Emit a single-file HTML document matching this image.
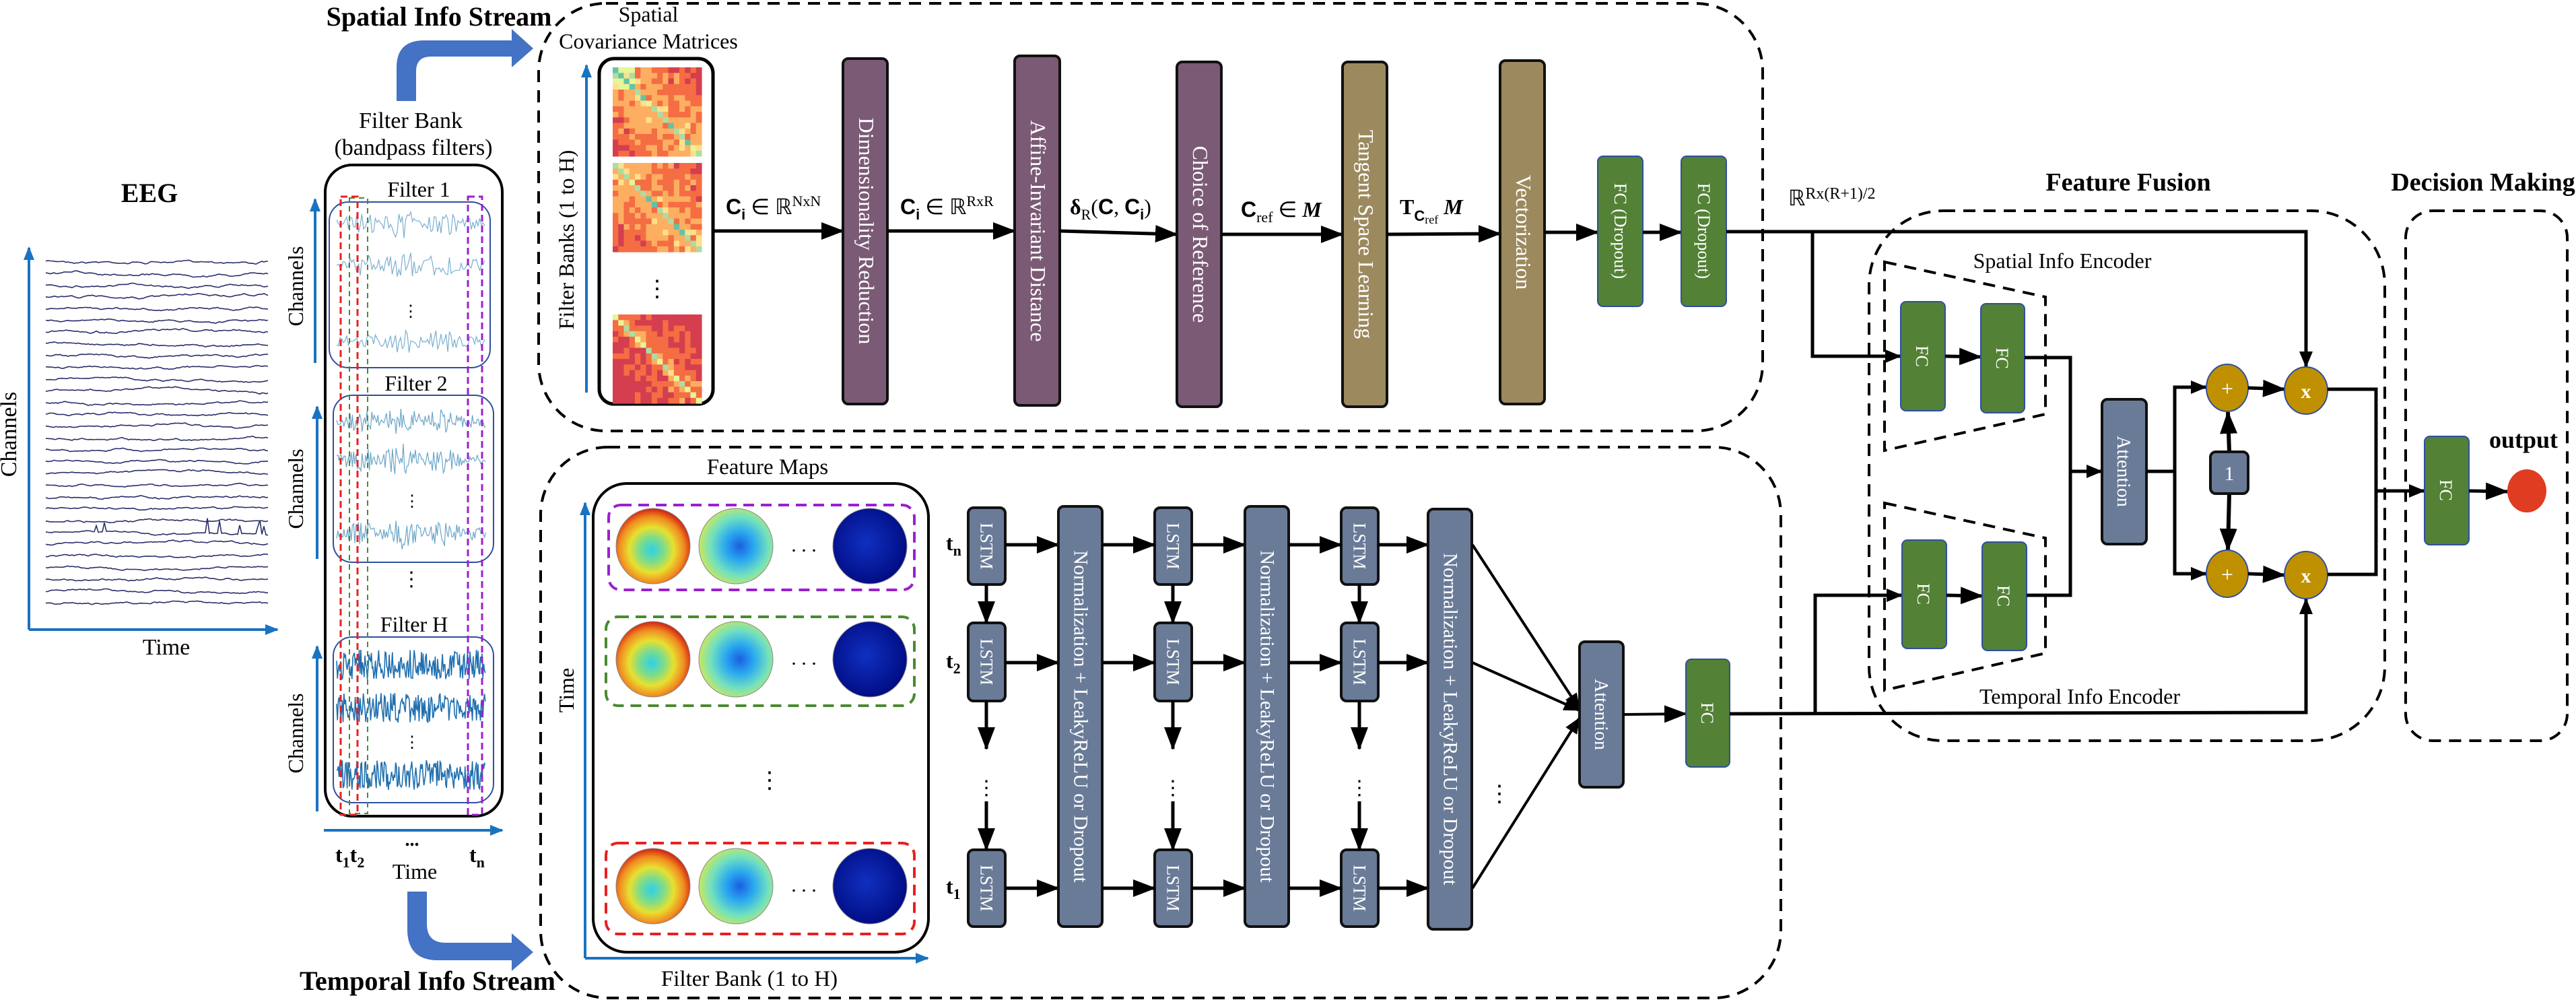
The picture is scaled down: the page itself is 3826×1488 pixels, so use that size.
<!DOCTYPE html>
<html><head><meta charset="utf-8"><style>
html,body{margin:0;padding:0;background:#fff;}
svg{display:block;}
text{font-family:"Liberation Serif",serif;}
.w{fill:#fff;}
.b{font-weight:bold;}
</style></head><body>
<svg id="s" xmlns="http://www.w3.org/2000/svg" width="3826" height="1488" viewBox="0 0 3826 1488">
<defs>
<marker id="a" markerUnits="userSpaceOnUse" markerWidth="34" markerHeight="26" refX="32" refY="13" orient="auto"><path d="M0,0 L34,13 L0,26 z" fill="#000"/></marker>
<marker id="s2" markerUnits="userSpaceOnUse" markerWidth="24" markerHeight="20" refX="23" refY="10" orient="auto"><path d="M0,0 L24,10 L0,20 z" fill="#000"/></marker>
<marker id="bl" markerUnits="userSpaceOnUse" markerWidth="20" markerHeight="16" refX="18" refY="8" orient="auto"><path d="M0,0 L20,8 L0,16 z" fill="#1a73c0"/></marker>
<radialGradient id="g1" cx="0.48" cy="0.55" r="0.55"><stop offset="0" stop-color="#2fd0e8"/><stop offset="0.3" stop-color="#7ddc8a"/><stop offset="0.55" stop-color="#e8e030"/><stop offset="0.8" stop-color="#f08a20"/><stop offset="1" stop-color="#d02010"/></radialGradient>
<radialGradient id="g2" cx="0.55" cy="0.5" r="0.55"><stop offset="0" stop-color="#1a5fe0"/><stop offset="0.35" stop-color="#2aa8f0"/><stop offset="0.7" stop-color="#70e0c0"/><stop offset="1" stop-color="#c8e860"/></radialGradient>
<radialGradient id="g3" cx="0.45" cy="0.45" r="0.6"><stop offset="0" stop-color="#1030c0"/><stop offset="1" stop-color="#000a80"/></radialGradient>
</defs>

<!-- EEG -->
<text x="222" y="300" font-size="40" class="b" text-anchor="middle">EEG</text>
<g id="eeg"></g>
<line x1="43" y1="935" x2="43" y2="368" stroke="#1a73c0" stroke-width="4" marker-end="url(#bl)"/>
<line x1="43" y1="935" x2="412" y2="935" stroke="#1a73c0" stroke-width="4" marker-end="url(#bl)"/>
<text transform="translate(24,645) rotate(-90)" font-size="34" text-anchor="middle">Channels</text>
<text x="247" y="972" font-size="34" text-anchor="middle">Time</text>

<!-- Filter bank -->
<text x="610" y="190" font-size="34" text-anchor="middle">Filter Bank</text>
<text x="614" y="230" font-size="34" text-anchor="middle">(bandpass filters)</text>
<rect x="483" y="245" width="263" height="967" rx="40" fill="none" stroke="#000" stroke-width="4"/>
<text x="622" y="292" font-size="32" text-anchor="middle">Filter 1</text>
<text x="618" y="580" font-size="32" text-anchor="middle">Filter 2</text>
<text x="615" y="938" font-size="32" text-anchor="middle">Filter H</text>
<g id="filt"></g>
<rect x="489" y="300" width="239" height="246" rx="28" fill="none" stroke="#2f4f9f" stroke-width="2"/>
<rect x="495" y="587" width="238" height="248" rx="28" fill="none" stroke="#2f4f9f" stroke-width="2"/>
<rect x="495" y="946" width="238" height="246" rx="28" fill="none" stroke="#2f4f9f" stroke-width="2"/>
<rect x="506" y="292" width="25" height="918" fill="none" stroke="#e82020" stroke-width="3" stroke-dasharray="10,6"/>
<rect x="519" y="294" width="27" height="914" fill="none" stroke="#4a8a30" stroke-width="2" stroke-dasharray="8,6"/>
<rect x="695" y="292" width="21" height="918" fill="none" stroke="#9a20d0" stroke-width="3" stroke-dasharray="10,6"/>
<text x="611" y="870" font-size="30" text-anchor="middle">⋮</text>
<text x="610" y="470" font-size="24" text-anchor="middle">⋮</text>
<text x="612" y="752" font-size="24" text-anchor="middle">⋮</text>
<text x="612" y="1110" font-size="24" text-anchor="middle">⋮</text>
<line x1="468" y1="539" x2="468" y2="296" stroke="#1a73c0" stroke-width="4" marker-end="url(#bl)"/>
<line x1="471" y1="830" x2="471" y2="604" stroke="#1a73c0" stroke-width="4" marker-end="url(#bl)"/>
<line x1="471" y1="1205" x2="471" y2="960" stroke="#1a73c0" stroke-width="4" marker-end="url(#bl)"/>
<text transform="translate(450,425) rotate(-90)" font-size="32" text-anchor="middle">Channels</text>
<text transform="translate(450,726) rotate(-90)" font-size="32" text-anchor="middle">Channels</text>
<text transform="translate(450,1089) rotate(-90)" font-size="32" text-anchor="middle">Channels</text>
<line x1="481" y1="1233" x2="746" y2="1233" stroke="#1a73c0" stroke-width="4" marker-end="url(#bl)"/>
<text x="498" y="1280" font-size="32" class="b">t<tspan font-size="22" dy="8">1</tspan><tspan dy="-8">t</tspan><tspan font-size="22" dy="8">2</tspan></text>
<text x="612" y="1256" font-size="28" class="b" text-anchor="middle">...</text>
<text x="697" y="1280" font-size="32" class="b">t<tspan font-size="22" dy="8">n</tspan></text>
<text x="616" y="1305" font-size="32" text-anchor="middle">Time</text>

<!-- Stream arrows -->
<path d="M589,150 L589,100 Q589,60 630,60 L760,60 L760,43 L792,72 L760,100 L760,84 L640,84 Q618,84 618,106 L618,150 Z" fill="#4472c4"/>
<path d="M605,1324 L605,1380 Q605,1426 650,1426 L760,1426 L760,1442 L792,1414 L760,1386 L760,1400 L662,1400 Q634,1400 634,1372 L634,1324 Z" fill="#4472c4"/>
<text x="652" y="38" font-size="40" class="b" text-anchor="middle">Spatial Info Stream</text>
<text x="635" y="1470" font-size="40" class="b" text-anchor="middle">Temporal Info Stream</text>

<!-- Spatial dashed region -->
<rect x="800" y="5" width="1818" height="635" rx="100" fill="none" stroke="#000" stroke-width="4" stroke-dasharray="18,12"/>
<text x="963" y="32" font-size="32" text-anchor="middle">Spatial</text>
<text x="963" y="72" font-size="32" text-anchor="middle">Covariance Matrices</text>
<line x1="871" y1="583" x2="871" y2="97" stroke="#1a73c0" stroke-width="4" marker-end="url(#bl)"/>
<text transform="translate(852,356) rotate(-90)" font-size="32" text-anchor="middle">Filter Banks (1 to H)</text>
<rect x="890" y="87" width="169" height="513" rx="22" fill="none" stroke="#000" stroke-width="5"/>
<g id="mats"></g>
<text x="976" y="440" font-size="34" text-anchor="middle">⋮</text>

<line x1="1059" y1="343" x2="1252" y2="343" stroke="#000" stroke-width="5" marker-end="url(#a)"/>
<text x="1078" y="318" font-size="32"><tspan class="b" font-family="Liberation Sans">C</tspan><tspan class="b" font-size="22" dy="8" font-family="Liberation Sans">i</tspan><tspan dy="-8"> ∈ ℝ</tspan><tspan font-size="22" dy="-12">NxN</tspan></text>
<rect x="1252" y="87" width="66" height="513" rx="8" fill="#7b5a75" stroke="#111" stroke-width="4"/>
<text class="w" transform="translate(1276,343) rotate(90)" font-size="32" text-anchor="middle">Dimensionality Reduction</text>

<line x1="1318" y1="343" x2="1507" y2="343" stroke="#000" stroke-width="5" marker-end="url(#a)"/>
<text x="1337" y="318" font-size="32"><tspan class="b" font-family="Liberation Sans">C</tspan><tspan class="b" font-size="22" dy="8" font-family="Liberation Sans">i</tspan><tspan dy="-8"> ∈ ℝ</tspan><tspan font-size="22" dy="-12">RxR</tspan></text>
<rect x="1507" y="83" width="67" height="519" rx="8" fill="#7b5a75" stroke="#111" stroke-width="4"/>
<text class="w" transform="translate(1531,343) rotate(90)" font-size="32" text-anchor="middle">Affine-Invariant Distance</text>

<line x1="1574" y1="343" x2="1748" y2="348" stroke="#000" stroke-width="5" marker-end="url(#a)"/>
<text x="1589" y="318" font-size="32"><tspan class="b">δ</tspan><tspan font-size="22" dy="8">R</tspan><tspan dy="-8">(</tspan><tspan class="b" font-family="Liberation Sans">C</tspan><tspan>, </tspan><tspan class="b" font-family="Liberation Sans">C</tspan><tspan class="b" font-size="22" dy="8" font-family="Liberation Sans">i</tspan><tspan dy="-8">)</tspan></text>
<rect x="1748" y="92" width="66" height="512" rx="8" fill="#7b5a75" stroke="#111" stroke-width="4"/>
<text class="w" transform="translate(1772,348) rotate(90)" font-size="32" text-anchor="middle">Choice of Reference</text>

<line x1="1814" y1="348" x2="1994" y2="348" stroke="#000" stroke-width="5" marker-end="url(#a)"/>
<text x="1843" y="322" font-size="32"><tspan class="b" font-family="Liberation Sans">C</tspan><tspan font-size="22" dy="8">ref</tspan><tspan dy="-8"> ∈ </tspan><tspan font-style="italic" class="b">M</tspan></text>
<rect x="1994" y="92" width="66" height="512" rx="8" fill="#9c8a5e" stroke="#111" stroke-width="4"/>
<text class="w" transform="translate(2018,348) rotate(90)" font-size="32" text-anchor="middle">Tangent Space Learning</text>

<line x1="2060" y1="348" x2="2228" y2="347" stroke="#000" stroke-width="5" marker-end="url(#a)"/>
<text x="2079" y="318" font-size="32"><tspan class="b">T</tspan><tspan font-size="22" dy="10" class="b" font-family="Liberation Sans">C</tspan><tspan font-size="18" dy="4">ref</tspan><tspan dy="-14" font-style="italic" class="b"> M</tspan></text>
<rect x="2228" y="90" width="66" height="510" rx="8" fill="#9c8a5e" stroke="#111" stroke-width="4"/>
<text class="w" transform="translate(2252,345) rotate(90)" font-size="32" text-anchor="middle">Vectorization</text>

<line x1="2294" y1="345" x2="2373" y2="345" stroke="#000" stroke-width="5" marker-end="url(#a)"/>
<rect x="2373" y="232" width="67" height="223" rx="8" fill="#538135" stroke="#2f4f9f" stroke-width="2"/>
<text class="w" transform="translate(2398,343) rotate(90)" font-size="26" text-anchor="middle">FC (Dropout)</text>
<line x1="2440" y1="345" x2="2497" y2="345" stroke="#000" stroke-width="5" marker-end="url(#a)"/>
<rect x="2497" y="232" width="67" height="223" rx="8" fill="#538135" stroke="#2f4f9f" stroke-width="2"/>
<text class="w" transform="translate(2522,343) rotate(90)" font-size="26" text-anchor="middle">FC (Dropout)</text>

<!-- Temporal dashed region -->
<rect x="803" y="664" width="1842" height="818" rx="100" fill="none" stroke="#000" stroke-width="4" stroke-dasharray="18,12"/>
<text x="1140" y="704" font-size="33" text-anchor="middle">Feature Maps</text>
<rect x="881" y="718" width="498" height="696" rx="50" fill="none" stroke="#000" stroke-width="4"/>
<line x1="869" y1="1423" x2="869" y2="747" stroke="#1a73c0" stroke-width="4" marker-end="url(#bl)"/>
<line x1="869" y1="1423" x2="1378" y2="1423" stroke="#1a73c0" stroke-width="4" marker-end="url(#bl)"/>
<text transform="translate(852,1025) rotate(-90)" font-size="32" text-anchor="middle">Time</text>
<text x="1113" y="1464" font-size="33" text-anchor="middle">Filter Bank (1 to H)</text>
<g id="topo"></g>
<rect x="904" y="750" width="454" height="126" rx="18" fill="none" stroke="#9a20d0" stroke-width="4" stroke-dasharray="16,10"/>
<rect x="900" y="916" width="458" height="132" rx="18" fill="none" stroke="#4a8a30" stroke-width="4" stroke-dasharray="16,10"/>
<rect x="900" y="1252" width="458" height="135" rx="18" fill="none" stroke="#e82020" stroke-width="4" stroke-dasharray="16,10"/>
<text x="1143" y="1170" font-size="34" text-anchor="middle">⋮</text>

<g id="lstm"></g>

<!-- attention temporal -->
<line x1="2187" y1="809" x2="2346" y2="1053" stroke="#000" stroke-width="4" marker-end="url(#s2)"/>
<line x1="2187" y1="984" x2="2346" y2="1055" stroke="#000" stroke-width="4" marker-end="url(#s2)"/>
<line x1="2187" y1="1319" x2="2346" y2="1066" stroke="#000" stroke-width="4" marker-end="url(#s2)"/>
<text x="2227" y="1190" font-size="34" text-anchor="middle">⋮</text>
<rect x="2346" y="953" width="65" height="216" rx="8" fill="#6a7b98" stroke="#111" stroke-width="4"/>
<text class="w" transform="translate(2369,1061) rotate(90)" font-size="28" text-anchor="middle">Attention</text>
<line x1="2411" y1="1061" x2="2504" y2="1060" stroke="#000" stroke-width="4" marker-end="url(#a)"/>
<rect x="2504" y="979" width="65" height="160" rx="8" fill="#538135" stroke="#2f4f9f" stroke-width="2"/>
<text class="w" transform="translate(2527,1059) rotate(90)" font-size="26" text-anchor="middle">FC</text>

<!-- Fusion -->
<text x="2656" y="305" font-size="32">ℝ<tspan font-size="24" dy="-10">Rx(R+1)/2</tspan></text>
<text x="3161" y="283" font-size="38" class="b" text-anchor="middle">Feature Fusion</text>
<text x="3688" y="283" font-size="38" class="b" text-anchor="middle">Decision Making</text>
<rect x="2776" y="313" width="766" height="787" rx="110" fill="none" stroke="#000" stroke-width="4" stroke-dasharray="18,12"/>
<rect x="3573" y="313" width="240" height="787" rx="40" fill="none" stroke="#000" stroke-width="4" stroke-dasharray="18,12"/>
<text x="3063" y="398" font-size="32" text-anchor="middle">Spatial Info Encoder</text>
<text x="3089" y="1045" font-size="32" text-anchor="middle">Temporal Info Encoder</text>
<path d="M2799,389 L3038,441 L3038,615 L2799,669 Z" fill="none" stroke="#000" stroke-width="4" stroke-dasharray="18,12"/>
<path d="M2799,747 L3038,799 L3038,970 L2799,1025 Z" fill="none" stroke="#000" stroke-width="4" stroke-dasharray="18,12"/>

<polyline points="2564,344 3425,344 3425,545" fill="none" stroke="#000" stroke-width="5" marker-end="url(#s2)"/>
<polyline points="2692,344 2692,529 2823,529" fill="none" stroke="#000" stroke-width="5" marker-end="url(#s2)"/>
<polyline points="2569,1060 3425,1058 3425,889" fill="none" stroke="#000" stroke-width="5" marker-end="url(#s2)"/>
<polyline points="2696,1059 2696,884 2825,884" fill="none" stroke="#000" stroke-width="5" marker-end="url(#s2)"/>

<rect x="2823" y="448" width="66" height="162" rx="8" fill="#538135" stroke="#2f4f9f" stroke-width="2"/>
<text class="w" transform="translate(2846,529) rotate(90)" font-size="26" text-anchor="middle">FC</text>
<line x1="2889" y1="529" x2="2942" y2="530" stroke="#000" stroke-width="5" marker-end="url(#a)"/>
<rect x="2942" y="451" width="65" height="162" rx="8" fill="#538135" stroke="#2f4f9f" stroke-width="2"/>
<text class="w" transform="translate(2965,532) rotate(90)" font-size="26" text-anchor="middle">FC</text>
<rect x="2825" y="802" width="66" height="161" rx="8" fill="#538135" stroke="#2f4f9f" stroke-width="2"/>
<text class="w" transform="translate(2848,882) rotate(90)" font-size="26" text-anchor="middle">FC</text>
<line x1="2891" y1="884" x2="2944" y2="885" stroke="#000" stroke-width="5" marker-end="url(#a)"/>
<rect x="2944" y="805" width="66" height="161" rx="8" fill="#538135" stroke="#2f4f9f" stroke-width="2"/>
<text class="w" transform="translate(2967,885) rotate(90)" font-size="26" text-anchor="middle">FC</text>

<polyline points="3007,531 3075,531 3075,884 3010,884" fill="none" stroke="#000" stroke-width="5"/>
<line x1="3075" y1="700" x2="3122" y2="700" stroke="#000" stroke-width="5" marker-end="url(#s2)"/>
<rect x="3122" y="593" width="66" height="215" rx="8" fill="#6a7b98" stroke="#111" stroke-width="4"/>
<text class="w" transform="translate(3145,700) rotate(90)" font-size="28" text-anchor="middle">Attention</text>
<line x1="3188" y1="700" x2="3230" y2="700" stroke="#000" stroke-width="5"/>
<polyline points="3277,575 3230,575 3230,852 3277,852" fill="none" stroke="#000" stroke-width="5"/>
<line x1="3240" y1="575" x2="3277" y2="575" stroke="#000" stroke-width="4" marker-end="url(#s2)"/>
<line x1="3240" y1="852" x2="3277" y2="852" stroke="#000" stroke-width="4" marker-end="url(#s2)"/>

<line x1="3311" y1="671" x2="3309" y2="612" stroke="#000" stroke-width="6" marker-end="url(#a)"/>
<line x1="3311" y1="733" x2="3309" y2="817" stroke="#000" stroke-width="6" marker-end="url(#a)"/>
<rect x="3283" y="671" width="56" height="62" rx="8" fill="#6a7b98" stroke="#111" stroke-width="4"/>
<text class="w" x="3311" y="713" font-size="30" text-anchor="middle">1</text>

<ellipse cx="3308" cy="576" rx="31" ry="35" fill="#bf9000" stroke="#2f4f9f" stroke-width="2"/>
<ellipse cx="3308" cy="852" rx="31" ry="35" fill="#bf9000" stroke="#2f4f9f" stroke-width="2"/>
<text class="w" x="3308" y="588" font-size="32" text-anchor="middle" font-family="Liberation Sans">+</text>
<text class="w" x="3308" y="864" font-size="32" text-anchor="middle" font-family="Liberation Sans">+</text>
<line x1="3339" y1="576" x2="3393" y2="578" stroke="#000" stroke-width="5" marker-end="url(#a)"/>
<line x1="3339" y1="852" x2="3393" y2="854" stroke="#000" stroke-width="5" marker-end="url(#a)"/>
<ellipse cx="3425" cy="580" rx="32" ry="35" fill="#bf9000" stroke="#2f4f9f" stroke-width="2"/>
<ellipse cx="3425" cy="854" rx="32" ry="35" fill="#bf9000" stroke="#2f4f9f" stroke-width="2"/>
<text class="w b" x="3425" y="591" font-size="30" text-anchor="middle" font-family="Liberation Sans">x</text>
<text class="w b" x="3425" y="865" font-size="30" text-anchor="middle" font-family="Liberation Sans">x</text>

<polyline points="3457,578 3529,578 3529,853 3457,853" fill="none" stroke="#000" stroke-width="5"/>
<line x1="3529" y1="729" x2="3601" y2="729" stroke="#000" stroke-width="5" marker-end="url(#s2)"/>
<rect x="3601" y="648" width="66" height="161" rx="8" fill="#538135" stroke="#2f4f9f" stroke-width="2"/>
<text class="w" transform="translate(3624,728) rotate(90)" font-size="26" text-anchor="middle">FC</text>
<line x1="3667" y1="729" x2="3724" y2="730" stroke="#000" stroke-width="5" marker-end="url(#a)"/>
<ellipse cx="3753" cy="729" rx="29" ry="32" fill="#e03c22"/>
<text x="3748" y="665" font-size="36" class="b" text-anchor="middle">output</text>
</svg>
<script>
(function(){
var NS="http://www.w3.org/2000/svg";
function el(p,t,a){var e=document.createElementNS(NS,t);for(var k in a)e.setAttribute(k,a[k]);p.appendChild(e);return e;}
var seed=7;function r(){seed=(seed*16807)%2147483647;return seed/2147483647;}
// EEG
var g=document.getElementById('eeg');
for(var i=0;i<30;i++){var y0=388+i*17.5;var d="";var v=0,w=0;
 for(var x=68;x<=400;x+=3){w=w*0.97+(r()-0.5)*0.8;v=v*0.8+(r()-0.5)*1.6;var bump=(i==23&&x>120&&x<400&&r()<0.12)?-(r()*22):0;d+=(x==68?"M":"L")+x+","+(y0+v+w*2+bump).toFixed(1);}
 el(g,'path',{d:d,fill:'none',stroke:'#2a2f6a','stroke-width':1.6});}
// filters
var f=document.getElementById('filt');
function sig(y,amp,col,w,step,dens){var d="";for(var x=500;x<=722;x+=step){var env=dens?1:(0.3+0.7*Math.abs(Math.sin(x*0.05))*Math.abs(Math.sin(x*0.013)));var v=(r()-0.5)*2*amp*env;d+=(x==500?"M":"L")+x+","+(y+v).toFixed(1);}el(f,'path',{d:d,fill:'none',stroke:col,'stroke-width':w});}
[332,394,508].forEach(function(y){sig(y,22,'#7ab0cf',1.2,2.5,false);});
[626,683,792].forEach(function(y){sig(y,24,'#6aa6c8',1.2,1.8,false);});
[987,1051,1151].forEach(function(y){sig(y,22,'#1f6fb0',1.6,1.2,true);});
// matrices
var m=document.getElementById('mats');
var cols=['#d53e4f','#f46d43','#fdae61','#fee08b','#e6f598','#abdda4','#66c2a5'];
[100,242,467].forEach(function(y0,k){var n=16,s=132/n;
 for(var a=0;a<n;a++)for(var b=0;b<n;b++){var dd=Math.abs(a-b);var base=k==2?1.2:2.2;var t=base-dd*0.12+ (r()-0.5)*1.6+(dd==0?3:0);t=Math.max(0,Math.min(6,Math.round(t+ (k==0&&a<4&&b<4?2:0))));
 el(m,'rect',{x:(910+b*s).toFixed(1),y:(y0+a*s).toFixed(1),width:s+0.5,height:s+0.5,fill:cols[t]});}});
// topomaps
var tp=document.getElementById('topo');
[811,979,1316].forEach(function(cy){
 el(tp,'ellipse',{cx:970,cy:cy,rx:55,ry:56,fill:'url(#g1)',stroke:'#888','stroke-width':1});
 el(tp,'ellipse',{cx:1093,cy:cy,rx:55,ry:56,fill:'url(#g2)',stroke:'#888','stroke-width':1});
 el(tp,'ellipse',{cx:1292,cy:cy,rx:55,ry:56,fill:'url(#g3)',stroke:'#888','stroke-width':1});
 var t=el(tp,'text',{x:1194,y:cy+8,'font-size':30,'text-anchor':'middle'});t.textContent='. . .';});
// LSTM grid
var L=document.getElementById('lstm');
var lx=[1438,1715,1992],nx=[1572,1849,2121];
var rows=[[754,868,809],[925,1041,984],[1262,1376,1319]];
function box(x,y,w,h,fill,txt,fs){el(L,'rect',{x:x,y:y,width:w,height:h,rx:8,fill:fill,stroke:'#111','stroke-width':4});var t=el(L,'text',{transform:'translate('+(x+w/2-9)+','+(y+h/2)+') rotate(90)','font-size':fs,'text-anchor':'middle',fill:'#fff'});t.textContent=txt;}
function ln(x1,y1,x2,y2,mk){el(L,'line',{x1:x1,y1:y1,x2:x2,y2:y2,stroke:'#000','stroke-width':5,'marker-end':mk?'url(#a)':''});}
var labs=[['t','n'],['t','2'],['t','1']];
rows.forEach(function(rw,i){var t=el(L,'text',{x:1405,y:rw[2]+8,'font-size':32,'font-weight':'bold'});t.innerHTML=labs[i][0]+'<tspan font-size="22" dy="8">'+labs[i][1]+'</tspan>';});
for(var c=0;c<3;c++){
 rows.forEach(function(rw){box(lx[c],rw[0],55,rw[1]-rw[0],'#6a7b98','LSTM',26);
  ln(lx[c]+55,rw[2],nx[c],rw[2],true);
  if(c>0)ln(nx[c-1]+65,rw[2],lx[c],rw[2],true);});
 var cx=lx[c]+27;
 ln(cx,868,cx,925,true);ln(cx,1041,cx,1112,true);ln(cx,1190,cx,1262,true);
 var t=el(L,'text',{x:cx,y:1180,'font-size':30,'text-anchor':'middle'});t.textContent='⋮';
 box(nx[c],c==2?756:752,65,624,'#6a7b98','Normalization + LeakyReLU or Dropout',30);
}
})();
</script>
</body></html>
